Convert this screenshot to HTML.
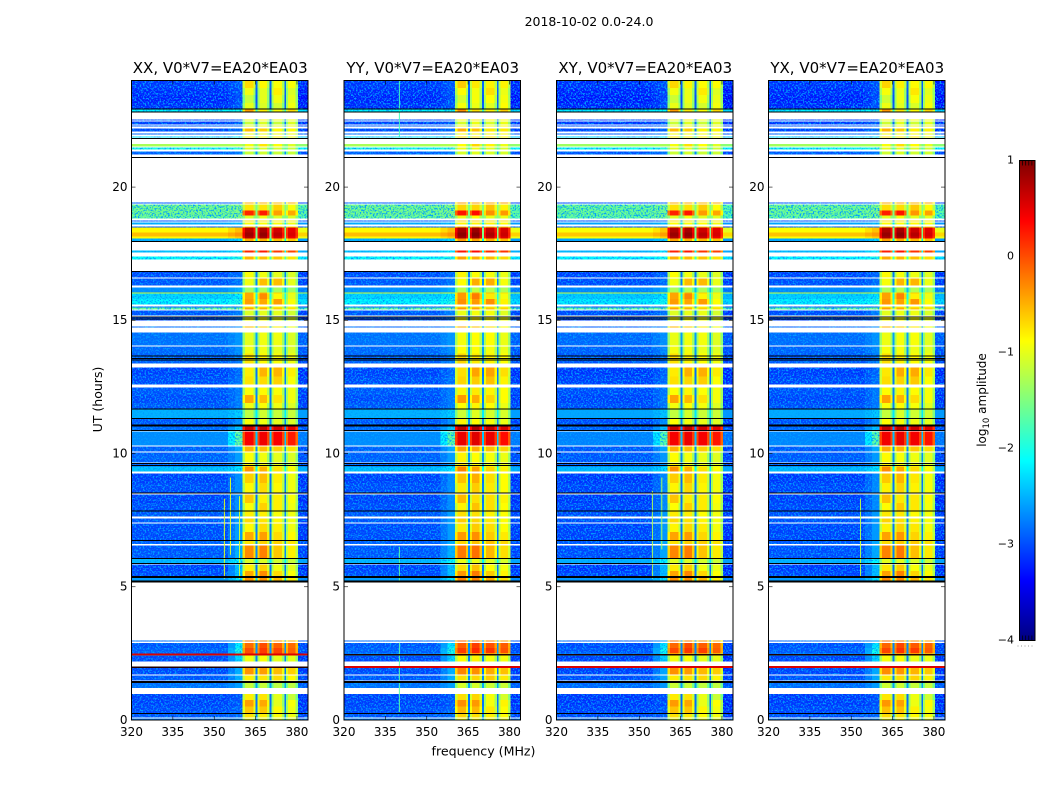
<!DOCTYPE html>
<html>
<head>
<meta charset="utf-8">
<title>2018-10-02 0.0-24.0</title>
<style>
html,body{margin:0;padding:0;background:#fff;}
body{width:1050px;height:800px;overflow:hidden;}
svg{display:block;font-family:"DejaVu Sans","Liberation Sans",sans-serif;fill:#000;}
</style>
</head>
<body>
<svg id="figure" width="1050" height="800" viewBox="0 0 1050 800" xmlns="http://www.w3.org/2000/svg">
  <defs>
    <filter id="speckle-filter" x="0" y="0" width="1" height="1" color-interpolation-filters="sRGB">
      <feTurbulence type="fractalNoise" baseFrequency="0.6" numOctaves="2" seed="7" result="n"/>
      <feColorMatrix in="n" type="matrix" values="0 0 0 0 0  0 0 0 0 0.62  0 0 0 0 1  5 0 0 0 -2.4" result="c"/>
      <feComposite in="c" in2="SourceAlpha" operator="in"/>
    </filter>
  </defs>
  <rect x="0" y="0" width="1050" height="800" fill="#fff"/>
  <text x="589" y="26" font-size="12.5" text-anchor="middle">2018-10-02 0.0-24.0</text>
  <text x="483.5" y="755.5" font-size="12.6" text-anchor="middle">frequency (MHz)</text>
  <text transform="translate(102,399.5) rotate(-90)" font-size="12.5" text-anchor="middle">UT (hours)</text>
  <g id="panels"></g>
  <g id="colorbar"></g>
  <text transform="translate(986,400) rotate(-90)" font-size="12" text-anchor="middle">log<tspan font-size="8.5" dy="3">10</tspan><tspan dy="-3"> amplitude</tspan></text>
</svg>
<script>
// ---- chart data ----
const panelTitles = ['XX, V0*V7=EA20*EA03', 'YY, V0*V7=EA20*EA03', 'XY, V0*V7=EA20*EA03', 'YX, V0*V7=EA20*EA03'];
const freqTicks = [320, 335, 350, 365, 380];
const utTicks = [0, 5, 10, 15, 20];
const colorbarTicks = [1, 0, -1, -2, -3, -4];
// per-panel level shifts (log10 amplitude)
const panelBandShift = [0, 0.08, 0.02, 0.04];
const panelBgShift = [0, 0, -0.05, -0.03];
// UT of the strong red line and the dark line in each panel
const hotLineUT = [2.45, 1.98, 1.98, 1.98];
const darkLineUT = [1.98, 2.45, 2.45, 2.45];
// fully flagged (black) integrations, UT hours
const blackLinesUT = [22.93, 22.81, 21.82, 21.11, 17.95, 16.83, 15.12, 15.05, 13.66, 13.56, 13.51, 11.67, 11.31, 11.07, 11.03, 10.86, 9.62, 9.55, 8.52, 7.84, 6.73, 6.06, 5.87, 5.39, 5.35, 5.22, 5.18, 1.45, 1.41, 0.24];
// narrow vertical interference streaks: panel index, frequency, UT range, level
const rfiPanel = [0, 0, 0, 1, 1, 1, 2, 2, 3];
const rfiFreq = [353.5, 355.7, 359, 339.9, 339.9, 339.9, 354.6, 358, 353.2];
const rfiUTLow = [5.3, 6.2, 5.3, 0.3, 5.2, 21.9, 5.3, 6.4, 5.4];
const rfiUTHigh = [8.3, 9.1, 8.4, 2.9, 6.5, 24, 8.6, 9.1, 8.3];
const rfiLevel = [-1, -1, -1.1, -1.7, -1.7, -1.8, -1.3, -1.3, -1.2];
// observed time rows [end UT, start UT]; anything not listed is unobserved (white)
const rowTimes = [
[24,23.72],[23.72,23.45],[23.45,23.15],[23.15,22.95],[22.95,22.83],
[22.53,22.5],[22.46,22.35],[22.31,22.27],[22.2,22.08],[22.02,21.97],
[21.9,21.86],[21.61,21.52],[21.48,21.41],[21.33,21.22],[19.42,19.38],
[19.34,19.12],[19.12,18.93],[18.93,18.82],[18.74,18.71],[18.67,18.59],
[18.52,18.48],[18.48,18.3],[18.3,18.15],[18.15,18.07],[18.07,17.95],
[17.62,17.54],[17.39,17.28],[16.83,16.6],[16.57,16.3],[16.23,16.04],
[16.04,16.0],[16.0,15.8],[15.8,15.59],[15.52,15.48],[15.48,15.4],
[15.37,15.18],[15.14,14.99],[14.77,14.73],[14.55,14.05],[14.02,13.75],
[13.75,13.38],[13.23,12.9],[12.9,12.59],[12.48,12.2],[12.2,11.9],
[11.9,11.69],[11.65,11.31],[11.31,11.05],[11.05,10.86],[10.83,10.3],
[10.26,10.08],[10.04,9.66],[9.62,9.51],[9.51,9.32],[9.25,8.9],
[8.9,8.54],[8.46,8.15],[8.15,7.86],[7.86,7.64],[7.56,7.41],
[7.37,7.05],[7.05,6.75],[6.73,6.6],[6.55,6.06],[6.06,5.89],
[5.83,5.6],[5.6,5.39],[5.35,5.23],[2.98,2.95],[2.89,2.7],
[2.7,2.5],[2.5,2.4],[2.4,2.2],[1.95,1.71],[1.67,1.48],
[1.44,1.2],[0.98,0.75],[0.75,0.5],[0.5,0.26],[0.23,0.09],
[0.06,0]
];
// log10 amplitude per row: [background, ramp, sub-band A, B, C, D]
const rowLevels = [
[-3.15,-3,-.75,-.9,-.95,-.95],[-3.2,-3.05,-1,-1.05,-.85,-1.1],[-3.25,-3.05,-1.2,-1.05,-1,-1.05],[-3.2,-3,-1.05,-1.1,-1.15,-1],[-2.15,-2.05,-.45,-.85,-.95,-.75],
[-3.1,-3,-1,-.9,-1,-1],[-3.1,-3,-1.2,-1.1,-1.2,-1.1],[-3,-2.9,-1.05,-1,-1.05,-1],[-3.05,-2.9,-.6,-.7,-.9,-.9],[-2.9,-2.8,-1,-1,-1,-1],
[-2.2,-2.1,-.85,-.9,-.9,-1],[-1.3,-1.25,-1,-.8,-.95,-1.1],[-2,-1.9,-1.1,-1.1,-1.15,-1.2],[-2.95,-2.8,-1.2,-1.15,-1.2,-1.2],[-3,-2.9,-.55,-.55,-.6,-.55],
[-1.55,-1.5,-.8,-.8,-.7,-.95],[-1.55,-1.5,.15,.2,-.45,-.5],[-1.6,-1.5,-1.1,-1,-1.1,-1.1],[-3,-2.9,-.8,-.8,-.85,-.85],[-2.5,-2.4,-.95,-.95,-.95,-1],
[-3,-2.8,-.7,-.7,-.75,-.8],[-.85,-.55,.7,.75,.55,.45],[-.55,-.35,.8,.85,.65,.5],[-.85,-.6,.7,.75,.55,.4],[-2.5,-2.3,-.5,-.55,-.6,-.65],
[-2.4,-2.2,.15,.2,.05,0],[-2.1,-2,-.55,-.6,-.65,-.8],[-3.05,-2.9,-.95,-1,-1.05,-1.1],[-3,-2.85,-1,-.6,-.6,-1.05],[-2.7,-2.5,-1.35,-1.3,-1.35,-1.4],
[-1.1,-1,-.5,-.55,-.7,-.85],[-2.3,-2.2,-.5,-.35,-.9,-1.05],[-2.15,-2,-.45,-.5,-.45,-.95],[-3,-2.9,-.9,-.9,-.95,-1],[-1.6,-1.5,-.5,-.55,-.7,-.8],
[-3,-2.8,-1.1,-1.05,-1.05,-1.15],[-3.05,-2.9,-.95,-.95,-1,-1.05],[-2.9,-2.7,-.6,-.7,-.85,-1],[-2.85,-2.65,-1.05,-1,-1,-1.1],[-2.9,-2.7,-1,-1,-1.05,-1.1],
[-2.95,-2.8,-.8,-.9,-.95,-1],[-3.1,-2.9,-.85,-.55,-.55,-.85],[-3.05,-2.85,-.8,-.75,-.7,-.95],[-3,-2.8,-.95,-.9,-.95,-1],[-3.05,-2.8,-.5,-.6,-.8,-1],
[-3,-2.8,-1,-.95,-1,-1.1],[-2.5,-2.35,-1.25,-1.15,-1.2,-1.2],[-3,-2.7,-.95,-1,-1.05,-1.1],[-2.9,-2.4,.6,.65,.55,.45],[-2.7,-1.65,.35,.4,.35,.2],
[-2.95,-2.5,-.55,-.6,-.7,-.8],[-2.95,-2.6,-.95,-1,-1.05,-1.1],[-2.95,-2.6,-.9,-1,-1.05,-1.1],[-2.4,-2.2,-.4,-.55,-.8,-.95],[-3.1,-2.7,-.7,-.6,-.85,-1],
[-3.05,-2.7,-.9,-.75,-.9,-1],[-3.1,-2.7,-.65,-.85,-.85,-.95],[-3.05,-2.7,-.95,-.7,-.85,-1],[-3,-2.6,-.85,-.85,-.95,-1],[-3,-2.6,-.75,-.8,-.9,-1],
[-3.05,-2.6,-.9,-.75,-.85,-1],[-3.05,-2.6,-.5,-.45,-.75,-.9],[-2.95,-2.5,-.8,-.7,-.7,-.8],[-3,-2.5,-.35,-.3,-.65,-.85],[-2.45,-2.1,-1.1,-1.1,-1.15,-1.2],
[-3.1,-2.4,-.85,-.7,-1,-1.05],[-3.05,-2.4,-.5,-.35,-.75,-.95],[-2.6,-2.2,-.4,-.4,-.6,-.85],[-2.9,-2.6,-.25,-.3,-.4,-.5],[-3,-2.2,-.2,-.05,-.15,-.2],
[-2.95,-2,-.05,.05,0,-.15],[-2.7,-2.2,-.9,-1,-1,-1.05],[-3.05,-2.3,-1,-.95,-1.05,-1.05],[-3.05,-2.5,-.4,-.45,-.6,-.7],[-3,-2.5,-.85,-.8,-.75,-.9],
[-2.85,-2.6,-1.2,-1.2,-1.25,-1.25],[-3.1,-3,-.85,-.8,-1.05,-1.2],[-3.1,-3,-.45,-.5,-1.05,-.95],[-3.05,-2.95,-.65,-.65,-.9,-1],[-3,-2.9,-.8,-.85,-.95,-1],
[-2.8,-2.7,-1,-1,-1.05,-1.1]
];
// frequency layout, MHz
const freqMin = 320;
const freqMax = 384;
const bandStart = [360.3, 365.6, 370.7, 376];
const bandEnd = [365, 370, 375.4, 380.3];
const rampStart = 355;
const rampMid = 357.5;
const utMax = 24;

// ---- helpers ----
const NS = 'http://www.w3.org/2000/svg';
const panelLefts = [131.5, 344, 556.5, 768.5];
const panelW = 176.5, plotTop = 80.5, plotH = 639.5;
function jet(v){
  const t = Math.max(0, Math.min(1, (v + 4) / 5));
  const ramp = (a) => Math.max(0, Math.min(1, 1.5 - Math.abs(4 * t - a)));
  return 'rgb(' + Math.round(ramp(3) * 255) + ',' + Math.round(ramp(2) * 255) + ',' + Math.round(ramp(1) * 255) + ')';
}
function node(parent, tag, attrs){
  const el = document.createElementNS(NS, tag);
  for (const k in attrs) el.setAttribute(k, attrs[k]);
  parent.appendChild(el);
  return el;
}
function xScale(left, f){ return left + (f - freqMin) / (freqMax - freqMin) * panelW; }
function yScale(ut){ return plotTop + (utMax - ut) / utMax * plotH; }

function heatCell(group, left, f0, f1, u0, u1, level){
  const x0 = xScale(left, f0), x1 = xScale(left, f1), y0 = yScale(u1), y1 = yScale(u0);
  const r = node(group, 'rect', {x: x0.toFixed(2), y: y0.toFixed(2), width: (x1 - x0).toFixed(2), height: Math.max(0.8, y1 - y0).toFixed(2), fill: jet(level)});
  
  
  return r;
}

const panelsG = document.getElementById('panels');
panelTitles.forEach(function(title, p){
  const left = panelLefts[p];
  const g = node(panelsG, 'g', {});
  
  

  const heat = node(g, 'g', {'shape-rendering': 'crispEdges'});
  
  
  const noise = node(g, 'g', {filter: 'url(#speckle-filter)', 'shape-rendering': 'crispEdges'});
  
  

  rowTimes.forEach(function(times, i){
    const u1 = times[0], u0 = times[1];
    const lv = rowLevels[i];
    const bg = lv[0] + panelBgShift[p];
    const ramp = lv[1] + panelBgShift[p];
    heatCell(heat, left, freqMin, rampStart, u0, u1, bg);
    heatCell(heat, left, rampStart, rampMid, u0, u1, (bg + ramp) / 2);
    heatCell(heat, left, rampMid, bandStart[0], u0, u1, ramp);
    heatCell(heat, left, bandEnd[3], freqMax, u0, u1, bg - 0.1);
    bandStart.forEach(function(s, b){
      const level = lv[2 + b] + panelBandShift[p];
      const e = bandEnd[b];
      heatCell(heat, left, s, s + 0.8, u0, u1, level - 0.35);
      heatCell(heat, left, s + 0.8, e - 0.8, u0, u1, level + 0.05);
      heatCell(heat, left, e - 0.8, e, u0, u1, level - 0.35);
      if (b < 3) heatCell(heat, left, e, bandStart[b + 1], u0, u1, Math.min(bg + 0.3, -1.5));
    });
    if (bg < -1.4) {
      const nx0 = xScale(left, freqMin), ny0 = yScale(u1), ny1 = yScale(u0);
      const nr = node(noise, 'rect', {x: nx0.toFixed(2), y: ny0.toFixed(2), width: (xScale(left, bandStart[0]) - nx0).toFixed(2), height: Math.max(0.8, ny1 - ny0).toFixed(2), fill: '#000'});
      
      
      const nr2 = node(noise, 'rect', {x: xScale(left, bandEnd[3]).toFixed(2), y: ny0.toFixed(2), width: (xScale(left, freqMax) - xScale(left, bandEnd[3])).toFixed(2), height: Math.max(0.8, ny1 - ny0).toFixed(2), fill: '#000'});
      
      
    }
  });

  rfiFreq.forEach(function(f, k){
    if (rfiPanel[k] !== p) return;
    const streak = heatCell(g, left, f, f + 0.35, rfiUTLow[k], rfiUTHigh[k], rfiLevel[k]);
    
  });

  blackLinesUT.forEach(function(ut){
    const l = node(g, 'rect', {x: left, y: (yScale(ut) - 0.5).toFixed(2), width: panelW, height: 1, fill: '#000', 'shape-rendering': 'crispEdges'});
    
    
  });
  const hot = node(g, 'rect', {x: left, y: (yScale(hotLineUT[p]) - 1).toFixed(2), width: panelW, height: 1.6, fill: jet(0.55), 'shape-rendering': 'crispEdges'});
  
  
  const dark = node(g, 'rect', {x: left, y: (yScale(darkLineUT[p]) - 0.7).toFixed(2), width: panelW, height: 1.3, fill: '#200', 'shape-rendering': 'crispEdges'});
  
  

  const frame = node(g, 'rect', {x: left, y: plotTop, width: panelW, height: plotH, fill: 'none', stroke: '#000', 'stroke-width': 1});
  
  

  freqTicks.forEach(function(f){
    const x = xScale(left, f);
    const t1 = node(g, 'line', {x1: x, x2: x, y1: plotTop + plotH, y2: plotTop + plotH - 4, stroke: '#000', 'stroke-width': 0.6});
    
    
    const t2 = node(g, 'line', {x1: x, x2: x, y1: plotTop, y2: plotTop + 4, stroke: '#000', 'stroke-width': 0.6});
    
    
    const lab = node(g, 'text', {x: x, y: 736, 'font-size': 12, 'text-anchor': 'middle'});
    
    
    lab.textContent = f;
  });
  utTicks.forEach(function(ut){
    const y = yScale(ut);
    const t1 = node(g, 'line', {x1: left, x2: left + 4, y1: y, y2: y, stroke: '#000', 'stroke-width': 0.6});
    
    
    const t2 = node(g, 'line', {x1: left + panelW, x2: left + panelW - 4, y1: y, y2: y, stroke: '#000', 'stroke-width': 0.6});
    
    
    const lab = node(g, 'text', {x: left - 4, y: y + 3.8, 'font-size': 12, 'text-anchor': 'end'});
    
    
    lab.textContent = ut;
  });
  const ttl = node(g, 'text', {x: left + panelW / 2 + 0.5, y: 73, 'font-size': 15, 'text-anchor': 'middle'});
  
  
  ttl.textContent = title;
});

// ---- colorbar ----
const cbG = document.getElementById('colorbar');
const cbX = 1019.5, cbW = 15.5, cbTop = 160.5, cbH = 480;
function cbY(v){ return cbTop + (colorbarTicks[0] - v) / (colorbarTicks[0] - colorbarTicks[colorbarTicks.length - 1]) * cbH; }
for (let py = 0; py < cbH; py += 2) {
  const v = colorbarTicks[0] - (py + 1) / cbH * (colorbarTicks[0] - colorbarTicks[colorbarTicks.length - 1]);
  const s = node(cbG, 'rect', {x: cbX, y: cbTop + py, width: cbW, height: 2.2, fill: jet(v), 'shape-rendering': 'crispEdges'});
  
  
}
const cbFrame = node(cbG, 'rect', {x: cbX, y: cbTop, width: cbW, height: cbH, fill: 'none', stroke: '#000', 'stroke-width': 1});


colorbarTicks.forEach(function(v){
  const lab = node(cbG, 'text', {x: 1014, y: cbY(v) + 3, 'font-size': 11, 'text-anchor': 'end'});
  
  
  lab.textContent = String(v).replace('-', '\u2212');
});
[0.2, 0.4, 0.6, 0.8].forEach(function(frac){
  const xt = cbX + frac * cbW;
  const top = node(cbG, 'line', {x1: xt, x2: xt, y1: cbTop, y2: cbTop + 5, stroke: '#000', 'stroke-width': 0.7});
  
  
  const bot = node(cbG, 'line', {x1: xt, x2: xt, y1: cbTop + cbH, y2: cbTop + cbH - 5, stroke: '#000', 'stroke-width': 0.7});
  
  
});
const dots = node(cbG, 'line', {x1: 1017.5, x2: 1035, y1: 646, y2: 646, stroke: '#999', 'stroke-width': 1, 'stroke-dasharray': '1 2.5'});


</script>
</body>
</html>
